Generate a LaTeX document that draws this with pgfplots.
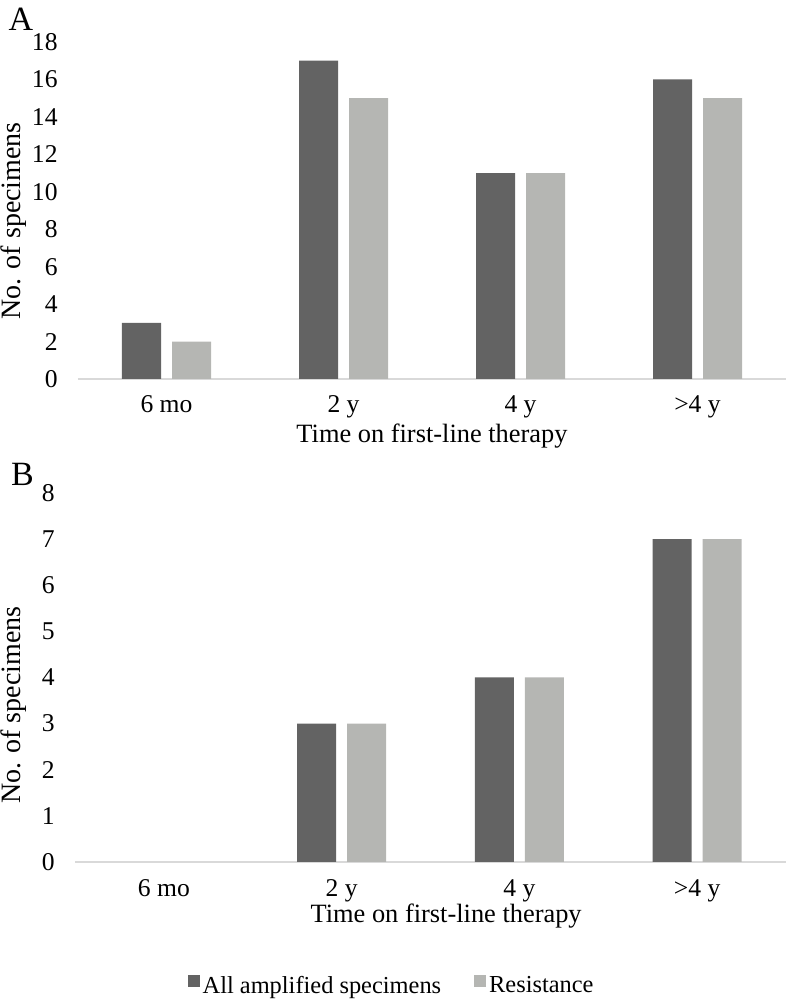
\documentclass[border=0pt]{standalone}
\usepackage{pgfplots}
\pgfplotsset{compat=1.18}
\usepackage{fontspec}
\setmainfont{Liberation Serif}

\definecolor{darkbar}{HTML}{636363}
\definecolor{lightbar}{HTML}{B5B6B3}
\definecolor{axisgray}{HTML}{D9D9D9}

\pgfplotsset{
  panel/.style={
    scale only axis,
    ybar,
    bar width=19.5pt,
    xmin=-0.5, xmax=3.5, ymin=0,
    xtick={0,1,2,3},
    xticklabels={6 mo, 2 y, 4 y, >4 y},
    axis lines=left,
    axis line style={-},
    x axis line style={draw=axisgray, line width=0.7pt},
    y axis line style={draw=none},
    major tick length=0pt,
    tick label style={font=\fontsize{12.8}{15}\selectfont, inner sep=0pt},
    xticklabel style={anchor=base, yshift=-17pt},
    yticklabel style={anchor=east, xshift=-10pt},
    xlabel style={font=\fontsize{13.2}{15}\selectfont},
    ylabel style={font=\fontsize{14}{16}\selectfont},
    /pgf/number format/assume math mode=true,
    clip=false,
  },
  darkser/.style={fill=darkbar, draw=none, bar shift=-12.5pt,
    legend image code/.code={\fill[darkbar] (0pt,-0.5pt) rectangle (6pt,5.5pt);}},
  lightser/.style={fill=lightbar, draw=none, bar shift=12.5pt,
    legend image code/.code={\fill[lightbar] (0pt,-0.5pt) rectangle (6pt,5.5pt);}},
}

\begin{document}
\begin{tikzpicture}
\useasboundingbox (0,0) rectangle (394pt,500pt);

% panel A
\begin{axis}[
  panel,
  at={(39pt,310.5pt)}, anchor=south west,
  width=354pt, height=168.5pt,
  ymax=18, ytick={0,2,...,18},
  xlabel={Time on first-line therapy},
  ylabel={No. of specimens},
  xlabel style={at={(axis description cs:0.5,0)}, anchor=base, yshift=-32pt},
  ylabel style={at={(axis description cs:0,0.469)}, anchor=center, yshift=32.25pt},
]
\addplot[darkser] coordinates {(0,3) (1,17) (2,11) (3,16)};
\addplot[lightser] coordinates {(0,2) (1,15) (2,11) (3,15)};
\end{axis}

% panel B
\begin{axis}[
  panel,
  at={(37.5pt,69pt)}, anchor=south west,
  width=355.5pt, height=184.5pt,
  ymax=8, ytick={0,1,...,8},
  xlabel={Time on first-line therapy},
  ylabel={No. of specimens},
  xlabel style={at={(axis description cs:0.522,0)}, anchor=base, yshift=-30pt},
  ylabel style={at={(axis description cs:0,0.425)}, anchor=center, yshift=30.75pt},
  legend columns=2,
  legend style={at={(axis description cs:0.446,0)}, anchor=center, yshift=-62pt,
    draw=none, fill=none, font=\fontsize{12.2}{15}\selectfont,
    /tikz/every even column/.append style={column sep=15pt},
    nodes={inner sep=1.5pt}},
]
\addplot[darkser] coordinates {(1,3) (2,4) (3,7)};
\addplot[lightser] coordinates {(1,3) (2,4) (3,7)};
\legend{All amplified specimens, Resistance}
\end{axis}

\node[font=\fontsize{17}{19}\selectfont] at (10.5pt,490.5pt) {A};
\node[font=\fontsize{17}{19}\selectfont] at (11.25pt,263pt) {B};
\end{tikzpicture}
\end{document}
